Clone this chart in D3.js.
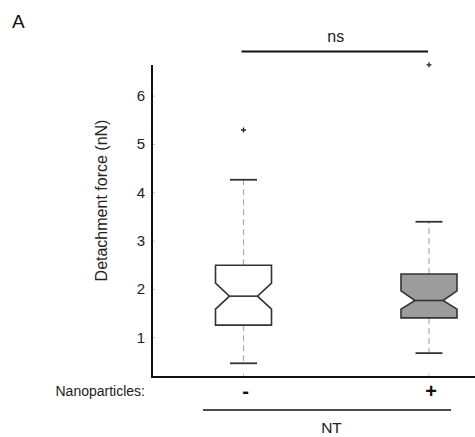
<!DOCTYPE html>
<html>
<head>
<meta charset="utf-8">
<script src="https://cdn.jsdelivr.net/npm/d3@7"></script>
<style>
  html, body { margin: 0; padding: 0; background: #fff; }
  svg { display: block; font-family: "Liberation Sans", Arial, sans-serif; }
</style>
</head>
<body>
<svg id="chart" width="475" height="437"></svg>
<script>
// Detachment force (nN) per group, summarised as notched box plots
const groups        = ["-", "+"];
const whiskerLow    = [0.46, 0.67];
const q1            = [1.25, 1.40];
const notchLow      = [1.58, 1.58];
const median        = [1.85, 1.76];
const notchHigh     = [2.12, 1.96];
const q3            = [2.49, 2.31];
const whiskerHigh   = [4.26, 3.39];
const outliers      = [[5.29], [6.64]];
const boxFills      = ["#ffffff", "#9c9c9c"];
const yTicks        = [1, 2, 3, 4, 5, 6];
const yLabel        = "Detachment force (nN)";
const groupLabel    = "Nanoparticles:";
const conditionName = "NT";
const sigLabel      = "ns";
const panelLetter   = "A";

const svg = d3.select("#chart");

const axisX = 152, axisTop = 65, axisBottom = 377, axisRight = 475;

const y = d3.scaleLinear().domain([0.176, 6.636]).range([axisBottom, axisTop]);
const x = d3.scalePoint().domain(groups).range([243.5, 429]);

const boxHalf = 28, notchInset = 14, capHalf = 13.5;

// Panel letter
svg.append("text").attr("x", 12).attr("y", 28)
  .attr("font-size", 19).attr("fill", "#111").text(panelLetter);

// Y axis with small inward ticks
const yAxis = d3.axisLeft(y).tickValues(yTicks).tickSize(-3).tickPadding(7)
  .tickFormat(d3.format("d"));
const gy = svg.append("g").attr("transform", `translate(${axisX},0)`).call(yAxis);
gy.select(".domain").remove();
gy.selectAll(".tick line").attr("stroke", "#c8c8c8");
gy.selectAll(".tick text").attr("font-size", 15).attr("fill", "#222")
  .attr("font-family", "Liberation Sans, Arial, sans-serif");

// small upward ticks at group positions on the x axis
svg.append("g").selectAll("line").data(groups).join("line")
  .attr("x1", d => x(d)).attr("x2", d => x(d))
  .attr("y1", axisBottom).attr("y2", axisBottom - 4)
  .attr("stroke", "#c8c8c8");

// Whiskers (dashed) and caps
const boxes = svg.append("g");
groups.forEach((g, i) => {
  const cx = x(g);
  boxes.append("line").attr("x1", cx).attr("x2", cx)
    .attr("y1", y(q3[i])).attr("y2", y(whiskerHigh[i]))
    .attr("stroke", "#ababab").attr("stroke-width", 1.2).attr("stroke-dasharray", "6,4");
  boxes.append("line").attr("x1", cx).attr("x2", cx)
    .attr("y1", y(q1[i])).attr("y2", y(whiskerLow[i]))
    .attr("stroke", "#ababab").attr("stroke-width", 1.2).attr("stroke-dasharray", "6,4");
  [whiskerHigh[i], whiskerLow[i]].forEach(v => {
    boxes.append("line").attr("x1", cx - capHalf).attr("x2", cx + capHalf)
      .attr("y1", y(v)).attr("y2", y(v))
      .attr("stroke", "#333").attr("stroke-width", 1.8);
  });

  // Notched box
  const L = cx - boxHalf, R = cx + boxHalf;
  const pts = [
    [L, y(q3[i])], [R, y(q3[i])], [R, y(notchHigh[i])], [R - notchInset, y(median[i])],
    [R, y(notchLow[i])], [R, y(q1[i])], [L, y(q1[i])], [L, y(notchLow[i])],
    [L + notchInset, y(median[i])], [L, y(notchHigh[i])]
  ];
  boxes.append("path").attr("d", d3.line()(pts) + "Z")
    .attr("fill", boxFills[i]).attr("stroke", "#333").attr("stroke-width", 1.6)
    .attr("stroke-linejoin", "miter");
  boxes.append("line").attr("x1", L + notchInset).attr("x2", R - notchInset)
    .attr("y1", y(median[i])).attr("y2", y(median[i]))
    .attr("stroke", "#333").attr("stroke-width", 1.6);

  // Outliers as small plus markers
  outliers[i].forEach(v => {
    const oy = y(v), s = 2.5;
    boxes.append("path")
      .attr("d", `M${cx - s},${oy}H${cx + s}M${cx},${oy - s}V${oy + s}`)
      .attr("stroke", "#222").attr("stroke-width", 1.3);
  });
});

// Axis lines
svg.append("line").attr("x1", axisX).attr("x2", axisX)
  .attr("y1", axisTop).attr("y2", axisBottom + 1)
  .attr("stroke", "#111").attr("stroke-width", 2);
svg.append("line").attr("x1", axisX - 1).attr("x2", axisRight)
  .attr("y1", axisBottom).attr("y2", axisBottom)
  .attr("stroke", "#111").attr("stroke-width", 2);

// Y axis title
svg.append("text")
  .attr("transform", `translate(106.5,200.5) rotate(-90)`)
  .attr("text-anchor", "middle").attr("font-size", 16).attr("fill", "#222")
  .text(yLabel);

// Significance bracket
svg.append("line").attr("x1", x(groups[0]) - 2).attr("x2", x(groups[1]) - 1)
  .attr("y1", 51.5).attr("y2", 51.5).attr("stroke", "#111").attr("stroke-width", 2);
svg.append("text").attr("x", (x(groups[0]) + x(groups[1])) / 2 - 0.5).attr("y", 42)
  .attr("text-anchor", "middle").attr("font-size", 16).attr("fill", "#222").text(sigLabel);

// Group labels below the x axis
svg.append("text").attr("x", 145).attr("y", 396)
  .attr("text-anchor", "end").attr("font-size", 14).attr("fill", "#222").text(groupLabel);
svg.append("g").selectAll("text").data(groups).join("text")
  .attr("x", d => x(d) + 2).attr("y", 398)
  .attr("text-anchor", "middle").attr("font-size", 20).attr("font-weight", "bold")
  .attr("fill", "#111").text(d => d);

// Condition bracket
svg.append("line").attr("x1", 203).attr("x2", 451)
  .attr("y1", 410).attr("y2", 410).attr("stroke", "#111").attr("stroke-width", 1.6);
svg.append("text").attr("x", 331.5).attr("y", 432.5)
  .attr("text-anchor", "middle").attr("font-size", 15.5).attr("fill", "#222").text(conditionName);
</script>
</body>
</html>
